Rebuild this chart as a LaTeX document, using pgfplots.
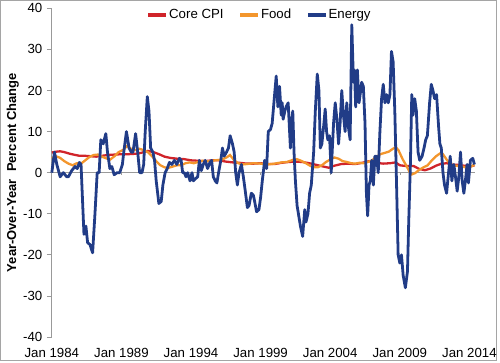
\documentclass[border=0pt]{standalone}
\usepackage{fontspec}
\setmainfont{Liberation Sans}
\usepackage{pgfplots}
\pgfplotsset{compat=1.18}
\definecolor{corecpi}{RGB}{208,36,42}
\definecolor{food}{RGB}{243,150,45}
\definecolor{energy}{RGB}{33,60,135}
\definecolor{framegray}{RGB}{165,165,165}
\begin{document}
\begin{tikzpicture}
\path (0,0) rectangle (500pt,364pt);
\draw[framegray, line width=1.3pt] (0.7pt,2pt) rectangle (498.3pt,363.3pt);
\begin{axis}[
  at={(52pt,25.7pt)}, anchor=south west,
  scale only axis, width=424.7pt, height=330pt,
  xmin=1984, xmax=2014.4, ymin=-40, ymax=40,
  axis y line=left, axis x line=bottom,
  x axis line style={draw=none},
  y axis line style={-, draw=gray!80, line width=0.8pt},
  ytick={-40,-30,...,40},
  xtick={1984,1989,1994,1999,2004,2009,2014},
  xticklabels={Jan 1984,Jan 1989,Jan 1994,Jan 1999,Jan 2004,Jan 2009,Jan 2014},
  x tick style={draw=none},
  y tick style={draw=gray!80, line width=0.8pt},
  tick align=outside, major tick length=5pt,
  /pgf/number format/assume math mode=true,
  tick label style={font=\fontsize{13.3pt}{15pt}\selectfont},
  yticklabel style={xshift=-1pt},
  xticklabel style={yshift=-3pt},
  ylabel={\bfseries Year-Over-Year\ \ Percent Change},
  ylabel style={font=\fontsize{13pt}{15pt}\selectfont, at={(axis description cs:-0.092,0.5)}, anchor=center},
  legend columns=3,
  legend style={draw=none, fill=none, at={(0.49,0.98)}, anchor=center,
    font=\fontsize{13.3pt}{15pt}\selectfont, inner sep=0pt,
    nodes={inner sep=1pt},
    /tikz/every even column/.append style={column sep=14pt}},
  legend image code/.code={\draw[#1, line width=3.5pt] (0pt,0pt) -- (18pt,0pt);},
  clip=false,
]
\addplot[gray!80, line width=0.8pt, forget plot] coordinates {(1984,0) (2014.4,0)};
\addplot[gray!80, line width=0.6pt, ycomb, forget plot] coordinates {(1989,-0.6) (1994,-0.6) (1999,-0.6) (2004,-0.6) (2009,-0.6) (2014,-0.6)};
\addplot[corecpi, line width=2.3pt] coordinates {
(1984.0,4.9) (1984.3,5.1) (1984.6,5.2) (1984.9,5.0) (1985.3,4.6) (1985.7,4.3) (1986.0,4.1) (1986.4,4.1) (1986.8,4.0) (1987.2,3.9) (1987.6,4.1) (1988.0,4.3) (1988.5,4.4) (1989.0,4.5) (1989.5,4.5) (1990.0,4.6) (1990.4,4.8) (1990.9,5.3) (1991.3,5.0) (1991.7,4.5) (1992.1,3.9) (1992.5,3.6) (1993.0,3.4) (1993.5,3.3) (1994.0,3.0) (1994.5,2.9) (1995.0,2.8) (1995.5,3.0) (1996.0,3.0) (1996.5,2.7) (1997.0,2.5) (1997.5,2.4) (1998.0,2.2) (1998.5,2.2) (1999.0,2.3) (1999.5,2.1) (2000.0,2.1) (2000.5,2.4) (2001.0,2.6) (2001.5,2.7) (2002.0,2.6) (2002.5,2.3) (2003.0,1.9) (2003.5,1.5) (2003.9,1.2) (2004.3,1.7) (2004.8,2.1) (2005.3,2.2) (2005.8,2.1) (2006.3,2.4) (2006.8,2.8) (2007.3,2.4) (2007.8,2.2) (2008.3,2.3) (2008.7,2.5) (2009.0,1.8) (2009.5,1.6) (2010.0,1.6) (2010.4,0.9) (2010.8,0.6) (2011.2,1.0) (2011.6,1.7) (2012.0,2.2) (2012.4,2.3) (2012.8,1.9) (2013.2,1.9) (2013.6,1.7) (2014.0,1.6) (2014.36,1.7)
};
\addlegendentry{Core CPI}
\addplot[food, line width=2.3pt] coordinates {
(1984.0,3.5) (1984.3,4.0) (1984.6,3.6) (1984.9,2.8) (1985.2,2.2) (1985.5,1.8) (1985.8,2.3) (1986.1,2.2) (1986.4,3.0) (1986.7,3.8) (1987.0,4.3) (1987.3,4.4) (1987.6,3.9) (1987.9,3.5) (1988.2,3.2) (1988.5,4.0) (1988.8,5.0) (1989.1,5.5) (1989.4,6.5) (1989.7,5.8) (1990.0,5.5) (1990.3,5.8) (1990.6,5.5) (1990.9,5.0) (1991.2,4.0) (1991.5,2.8) (1991.8,1.8) (1992.1,1.3) (1992.4,1.2) (1992.7,1.5) (1993.0,1.8) (1993.3,1.8) (1993.6,2.3) (1993.9,2.5) (1994.2,2.3) (1994.5,2.6) (1994.8,2.9) (1995.1,2.8) (1995.4,2.8) (1995.7,3.0) (1996.0,3.1) (1996.3,3.3) (1996.6,3.8) (1996.8,4.3) (1997.1,3.0) (1997.4,2.3) (1997.7,2.0) (1998.0,2.1) (1998.5,2.3) (1999.0,2.2) (1999.5,2.0) (2000.0,2.2) (2000.5,2.5) (2000.9,2.6) (2001.3,3.1) (2001.6,3.3) (2001.9,2.9) (2002.2,2.4) (2002.5,1.8) (2002.8,1.3) (2003.1,1.3) (2003.4,1.8) (2003.7,2.6) (2004.0,3.2) (2004.3,3.7) (2004.6,3.4) (2004.9,2.8) (2005.2,2.6) (2005.5,2.3) (2005.8,2.2) (2006.1,2.4) (2006.4,2.3) (2006.7,2.6) (2007.0,3.0) (2007.3,3.8) (2007.6,4.5) (2007.9,4.8) (2008.2,5.1) (2008.5,5.8) (2008.7,6.2) (2008.9,5.5) (2009.2,3.3) (2009.5,1.5) (2009.8,-0.5) (2010.1,-0.1) (2010.4,0.7) (2010.7,1.3) (2011.0,1.8) (2011.3,3.0) (2011.6,4.0) (2011.9,4.7) (2012.1,4.5) (2012.4,3.0) (2012.7,2.0) (2013.0,1.7) (2013.3,1.6) (2013.6,1.4) (2013.9,1.2) (2014.2,1.6) (2014.36,2.0)
};
\addlegendentry{Food}
\addplot[energy, line width=2.8pt, line join=round] coordinates {
(1984.00,0) (1984.19,5) (1984.36,2) (1984.60,-1) (1984.83,0) (1985.07,-1) (1985.19,-1) (1985.43,0.5) (1985.67,1.5) (1985.83,1) (1985.98,2.5) (1986.10,2) (1986.21,-7) (1986.31,-15) (1986.45,-13) (1986.57,-17) (1986.74,-17.5) (1986.93,-19.5) (1987.10,-10) (1987.26,0) (1987.40,0) (1987.52,8) (1987.69,7) (1987.88,9.5) (1988.00,5) (1988.17,1) (1988.31,1.5) (1988.48,-0.5) (1988.69,0) (1988.88,0) (1989.07,2) (1989.17,5) (1989.36,10) (1989.55,6) (1989.71,5) (1989.83,5) (1990.02,9.5) (1990.17,5) (1990.31,0) (1990.48,0) (1990.60,2) (1990.71,10) (1990.86,18.5) (1990.98,15) (1991.10,6) (1991.26,5) (1991.38,3) (1991.50,-2) (1991.69,-7.5) (1991.86,-7) (1991.98,-3) (1992.14,0) (1992.29,1) (1992.45,2.5) (1992.62,2) (1992.81,3) (1992.98,2) (1993.17,3.5) (1993.29,3) (1993.40,0) (1993.52,0) (1993.64,-1) (1993.76,0) (1993.93,-2) (1994.07,0) (1994.17,-2) (1994.31,-1.5) (1994.48,-1) (1994.60,3) (1994.74,0.5) (1994.88,2) (1995.02,3) (1995.19,1) (1995.36,2.5) (1995.48,3) (1995.60,-1) (1995.74,-2) (1995.86,-2.5) (1995.98,0) (1996.14,3) (1996.26,6) (1996.38,4) (1996.55,5) (1996.69,6) (1996.81,9) (1996.98,7) (1997.10,5) (1997.21,0) (1997.33,-3) (1997.45,0) (1997.62,2) (1997.76,-1) (1997.88,-4) (1998.05,-8.5) (1998.17,-8) (1998.33,-5) (1998.48,-5.5) (1998.57,-7) (1998.71,-9.5) (1998.88,-9) (1999.00,-6) (1999.12,-2) (1999.29,3) (1999.43,1) (1999.55,10) (1999.71,10.5) (1999.83,12) (1999.98,18) (2000.12,23.5) (2000.24,16) (2000.36,21) (2000.48,14) (2000.55,17) (2000.62,13) (2000.74,15) (2000.83,16) (2000.98,17) (2001.14,6) (2001.21,12) (2001.31,15) (2001.40,5) (2001.50,-2) (2001.62,-8) (2001.86,-13) (2002.02,-15.5) (2002.17,-9) (2002.26,-12) (2002.40,-10) (2002.52,-5) (2002.64,-3) (2002.81,5) (2002.93,15) (2003.07,24) (2003.19,20) (2003.29,6) (2003.40,7) (2003.52,11) (2003.64,15.5) (2003.74,10) (2003.83,8) (2003.95,9) (2004.07,0) (2004.24,12) (2004.36,17) (2004.48,13) (2004.60,7) (2004.71,12) (2004.83,20) (2004.95,14) (2005.07,10) (2005.19,17) (2005.31,11) (2005.43,8) (2005.55,36) (2005.67,22) (2005.74,25) (2005.83,16) (2005.95,25) (2006.07,17) (2006.19,20) (2006.26,22) (2006.38,21) (2006.50,12) (2006.60,-5) (2006.69,-10.5) (2006.79,-3) (2006.88,-2) (2006.98,3) (2007.10,-3) (2007.21,4) (2007.33,4) (2007.45,0) (2007.57,10) (2007.69,18) (2007.81,21.5) (2007.93,17) (2008.05,19) (2008.17,17) (2008.29,19) (2008.40,29.5) (2008.52,27) (2008.64,15) (2008.76,-2) (2008.88,-20) (2009.00,-22) (2009.12,-20) (2009.24,-25) (2009.40,-28) (2009.55,-24) (2009.64,-12) (2009.76,2) (2009.86,19) (2009.95,14) (2010.07,18) (2010.19,15) (2010.31,5) (2010.43,3) (2010.60,4) (2010.74,6) (2010.86,8) (2010.98,9) (2011.14,17) (2011.26,21.5) (2011.38,20) (2011.50,18) (2011.64,19) (2011.79,11) (2011.88,7) (2011.98,6) (2012.10,0) (2012.21,-3) (2012.36,-5) (2012.50,0) (2012.62,4) (2012.74,-2) (2012.88,2) (2013.00,-1) (2013.12,-4.5) (2013.24,-1) (2013.36,5) (2013.48,-2) (2013.60,-5) (2013.71,-2) (2013.83,2) (2013.93,-2.5) (2014.07,3) (2014.24,3.5) (2014.36,2)
};
\addlegendentry{Energy}
\end{axis}
\end{tikzpicture}
\end{document}
